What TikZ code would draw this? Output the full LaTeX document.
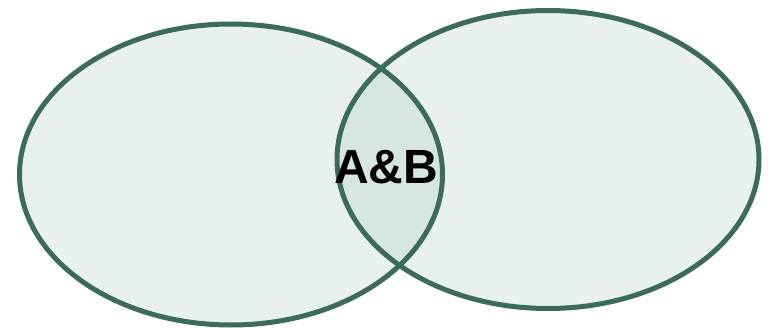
\documentclass[tikz,border=0pt]{standalone}
\usepackage{fontspec}
\setmainfont{Liberation Sans}
\definecolor{vline}{HTML}{3B6B5A}
\definecolor{vfill}{HTML}{E8F1ED}
\definecolor{vboth}{HTML}{D6E6E0}
\begin{document}
\begin{tikzpicture}[
    x=1pt, y=-1pt,
    set/.style={draw=vline, line width=5pt},
    lbl/.style={font=\fontsize{48}{48}\selectfont\bfseries, inner sep=0pt, anchor=base}
]
\useasboundingbox (0,0) rectangle (769,329);

\fill[vfill] (231,174.5) ellipse [x radius=211.5, y radius=150.5];
\fill[vfill] (548,159.5) ellipse [x radius=211, y radius=149];
\begin{scope}
    \clip (231,174.5) ellipse [x radius=211.5, y radius=150.5];
    \fill[vboth] (548,159.5) ellipse [x radius=211, y radius=149];
\end{scope}
\draw[set] (231,174.5) ellipse [x radius=211.5, y radius=150.5];
\draw[set] (548,159.5) ellipse [x radius=211, y radius=149];

\node[lbl] (ab) at (386,183) {A\&B};

\end{tikzpicture}
\end{document}
